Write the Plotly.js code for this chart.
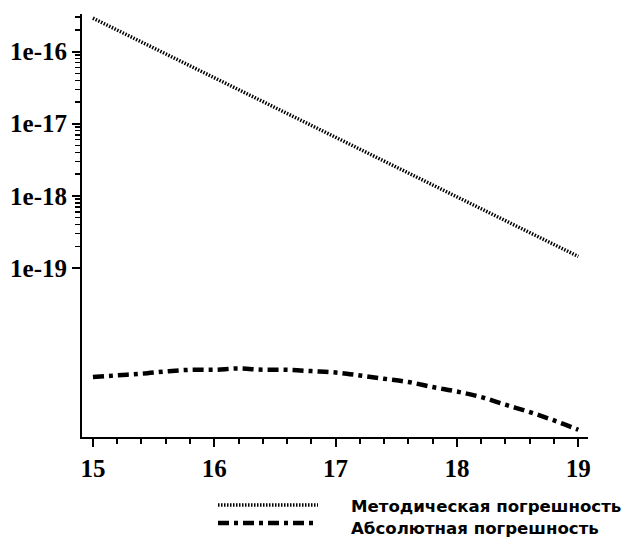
<!DOCTYPE html>
<html>
<head>
<meta charset="utf-8">
<script src="https://cdn.plot.ly/plotly-3.0.1.min.js"></script>
<style>html,body{margin:0;padding:0;background:#fff;}#chart{width:623px;height:537px;}</style>
</head>
<body>
<div id="chart"></div>
<script>
// Data
const xMethod = [15, 16, 17, 18, 19];
const yMethod = [2.9e-16, 4.3e-17, 6.5e-18, 9.7e-19, 1.45e-19];

const xAbs = [15, 15.2, 15.4, 15.6, 15.8, 16, 16.2, 16.4, 16.6, 16.8, 17, 17.2, 17.4, 17.6, 17.8, 18, 18.2, 18.4, 18.6, 18.8, 19];
const yAbs = [3.09e-21, 3.27e-21, 3.44e-21, 3.70e-21, 3.90e-21, 3.90e-21, 4.07e-21, 3.90e-21, 3.90e-21, 3.74e-21, 3.58e-21, 3.25e-21, 2.93e-21, 2.64e-21, 2.25e-21, 1.95e-21, 1.63e-21, 1.28e-21, 1.01e-21, 7.75e-22, 5.76e-22];

const seriesNames = ['Методическая погрешность', 'Абсолютная погрешность'];

const yTickVals = [1e-16, 1e-17, 1e-18, 1e-19];
const yTickText = ['1e-16', '1e-17', '1e-18', '1e-19'];
const yMinorVals = [2e-19,3e-19,4e-19,5e-19,6e-19,7e-19,8e-19,9e-19,
                    2e-18,3e-18,4e-18,5e-18,6e-18,7e-18,8e-18,9e-18,
                    2e-17,3e-17,4e-17,5e-17,6e-17,7e-17,8e-17,9e-17,
                    2e-16,3e-16];
const xTickVals = [15, 16, 17, 18, 19];

const dotStyle = {color: '#000', width: 3.5, dash: '1.5px,1.5px'};
const dashDotStyle = {color: '#000', width: 4.5, dash: '11px,5px,4px,5px'};

const traces = [
  {x: xMethod, y: yMethod, name: seriesNames[0], mode: 'lines', line: dotStyle, showlegend: false},
  {x: xAbs, y: yAbs, name: seriesNames[1], mode: 'lines', line: Object.assign({shape: 'spline'}, dashDotStyle), showlegend: false}
];

const tickFont = {family: 'Liberation Serif, serif', size: 25, weight: 700, color: '#000'};
const legFont = {family: 'DejaVu Sans, sans-serif', size: 16.6, weight: 700, color: '#000'};

const plotL = 82, plotR = 588, plotT = 14, plotB = 437;
const pw = plotR - plotL, ph = plotB - plotT;
const px = v => (v - plotL) / pw;
const py = v => (plotB - v) / ph;

const legendRows = [505, 523];
const styles = [dotStyle, dashDotStyle];

const shapes = legendRows.map((r, i) => ({
  type: 'line', xref: 'paper', yref: 'paper',
  x0: px(218), x1: px(318), y0: py(r), y1: py(r),
  line: styles[i]
}));
const annotations = [{
  xref: 'paper', yref: 'paper', x: px(349), y: py(517),
  xanchor: 'left', yanchor: 'middle', align: 'left', showarrow: false,
  text: seriesNames.map(s => '<b>' + s + '</b>').join('<br>'), font: legFont
}];

const layout = {
  width: 623, height: 537, autosize: false,
  margin: {l: plotL, r: 623 - plotR, t: plotT, b: 537 - plotB, pad: 0},
  paper_bgcolor: '#fff', plot_bgcolor: '#fff',
  showlegend: false,
  xaxis: {
    range: [14.91, 19.08], showgrid: false, zeroline: false,
    showline: true, linecolor: '#000', linewidth: 2,
    tickmode: 'array', tickvals: xTickVals, ticktext: xTickVals.map(String),
    ticks: 'outside', ticklen: 8, tickwidth: 2, tickcolor: '#000',
    tickfont: tickFont,
    minor: {dtick: 0.2, tick0: 15, ticks: 'outside', ticklen: 5, tickwidth: 2, tickcolor: '#000', showgrid: false}
  },
  yaxis: {
    type: 'log', range: [-21.34, -15.48], showgrid: false, zeroline: false,
    showline: true, linecolor: '#000', linewidth: 2,
    tickmode: 'array', tickvals: yTickVals, ticktext: yTickText,
    ticks: 'outside', ticklen: 8, tickwidth: 2, tickcolor: '#000',
    tickfont: tickFont,
    minor: {tickmode: 'array', tickvals: yMinorVals, ticks: 'outside', ticklen: 5, tickwidth: 1.5, tickcolor: '#000', showgrid: false}
  },
  shapes: shapes,
  annotations: annotations
};

Plotly.newPlot('chart', traces, layout, {displayModeBar: false, staticPlot: true});
</script>
</body>
</html>
